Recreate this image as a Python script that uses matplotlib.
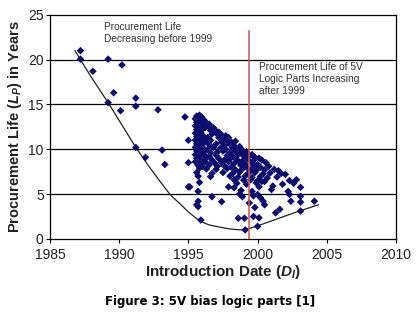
import matplotlib
matplotlib.use("Agg")
import matplotlib.pyplot as plt

plt.rcParams["font.family"] = ["Liberation Sans", "DejaVu Sans"]
plt.rcParams["mathtext.fontset"] = "custom"
plt.rcParams["mathtext.it"] = "Liberation Sans:italic:bold"
plt.rcParams["mathtext.rm"] = "Liberation Sans:bold"

# sparse early parts
early_years = [1987.2, 1987.2, 1989.2, 1990.2, 1988.1, 1989.6, 1989.2, 1991.2, 1991.2,
               1990.1, 1992.8, 1991.2, 1993.1, 1991.9, 1993.3, 1994.75, 1995.0, 1995.0,
               1995.1, 1995.0]
early_life = [21.0, 20.05, 20.05, 19.4, 18.7, 16.3, 15.2, 15.7, 14.8,
              14.3, 14.4, 10.2, 9.9, 9.1, 8.3, 13.6, 11.0, 8.5,
              5.8, 5.8]

# dense cluster of parts introduced 1995-2004
cluster = [
    (1995.6, 13.7), (1995.8, 13.8), (1995.95, 13.6),
    (1995.5, 13.4), (1995.7, 13.3), (1995.9, 13.45), (1996.1, 13.3), (1996.2, 13.1),
    (1995.6, 13.0), (1995.8, 12.9), (1996.0, 13.0), (1996.3, 12.9), (1996.5, 12.8),
    (1995.5, 12.6), (1995.7, 12.5), (1995.9, 12.7), (1996.2, 12.4), (1996.5, 12.5), (1996.8, 12.4),
    (1995.6, 12.2), (1995.8, 12.1), (1996.0, 12.25), (1996.6, 12.1), (1996.9, 12.2), (1997.2, 11.9),
    (1995.5, 11.8), (1995.7, 11.7), (1995.9, 11.85), (1996.7, 11.7), (1997.0, 11.8), (1997.4, 11.6),
    (1997.7, 11.5),
    (1995.6, 11.4), (1995.8, 11.3), (1996.1, 11.45), (1996.4, 11.3), (1997.2, 11.3), (1997.5, 11.2),
    (1997.9, 11.3),
    (1995.5, 11.0), (1995.7, 10.9), (1996.0, 11.05), (1996.3, 10.9), (1996.6, 11.0), (1997.4, 10.8),
    (1997.8, 10.95), (1998.1, 10.8), (1998.4, 10.9),
    (1995.6, 10.6), (1995.8, 10.5), (1996.1, 10.7), (1996.5, 10.5), (1997.0, 10.6), (1997.6, 10.4),
    (1998.0, 10.55), (1998.3, 10.4), (1998.7, 10.3),
    (1995.5, 10.2), (1995.7, 10.1), (1996.0, 10.25), (1996.4, 10.0), (1996.8, 10.2), (1997.3, 10.1),
    (1997.7, 10.0), (1998.2, 10.15), (1998.6, 10.0), (1998.9, 9.9),
    (1995.6, 9.8), (1995.9, 9.7), (1996.2, 9.85), (1996.6, 9.6), (1997.1, 9.7), (1997.5, 9.8),
    (1998.0, 9.6), (1998.4, 9.75), (1998.8, 9.6), (1999.2, 9.7), (1999.6, 9.4),
    (1995.5, 9.4), (1995.8, 9.3), (1996.1, 9.45), (1996.5, 9.2), (1997.0, 9.35), (1997.8, 9.3),
    (1998.2, 9.2), (1998.6, 9.4), (1999.0, 9.25), (1999.4, 9.3), (1999.8, 9.1), (2000.1, 9.0),
    (1995.6, 9.0), (1995.9, 8.9), (1996.3, 9.05), (1996.7, 8.8), (1997.2, 8.95), (1997.6, 8.8),
    (1998.0, 8.9), (1998.5, 8.85), (1998.9, 8.7), (1999.3, 8.9), (1999.7, 8.75), (2000.3, 8.8),
    (1995.5, 8.6), (1995.8, 8.5), (1996.2, 8.6), (1996.9, 8.45), (1997.4, 8.5), (1997.9, 8.6),
    (1998.3, 8.4), (1998.7, 8.5), (1999.1, 8.35), (1999.6, 8.5), (2000.0, 8.3), (2000.6, 8.5),
    (1995.7, 8.2), (1996.0, 8.1), (1996.5, 8.25), (1997.1, 8.1), (1997.6, 8.15), (1998.1, 8.0),
    (1998.8, 8.2), (1999.2, 8.0), (1999.7, 8.15), (2000.2, 8.0), (2000.8, 8.1),
    (1995.8, 7.9), (1996.3, 7.8), (1997.0, 7.75), (1997.8, 7.85), (1998.4, 7.7), (1998.9, 7.8),
    (1999.5, 7.65), (2000.0, 7.8), (2000.5, 7.7), (2001.2, 7.75), (2001.5, 7.6),
    (1995.6, 7.4), (1996.7, 7.3), (1997.5, 7.4), (1998.2, 7.3), (1998.7, 7.45), (1999.3, 7.3),
    (1999.8, 7.4), (2000.4, 7.25), (2000.9, 7.35), (2001.7, 7.3), (2002.0, 7.2),
    (1995.7, 7.0), (1996.6, 6.95), (1998.0, 7.0), (1998.6, 6.9), (1999.1, 7.0), (1999.6, 6.85),
    (2000.2, 6.95), (2000.7, 6.8), (2001.4, 6.9),
    (1998.3, 6.6), (1999.0, 6.55), (1999.5, 6.6), (2000.0, 6.5), (2000.5, 6.4), (2002.3, 6.5),
    (2002.8, 6.6),
    (1995.8, 6.3), (1998.5, 6.2), (1999.2, 6.1), (1999.9, 6.25), (2000.3, 6.4), (2001.8, 6.1),
    (2002.6, 6.2),
    (1997.9, 5.8), (1998.3, 5.7), (2000.1, 5.8), (2001.0, 5.5), (2001.1, 5.9), (2003.1, 5.75),
    (1995.7, 5.3), (1998.8, 5.4), (1999.6, 5.3), (2002.2, 5.3),
    (1998.7, 5.0), (2000.0, 4.95), (2002.3, 4.95),
    (1996.7, 4.7), (1998.9, 4.7), (1999.7, 4.8), (2000.2, 4.6), (2003.1, 4.75),
    (1995.7, 4.2), (1997.4, 4.15), (1999.4, 4.0), (2000.4, 4.2), (2002.4, 4.2), (2003.1, 4.1),
    (2004.1, 4.2),
    (1995.6, 3.8), (1995.7, 3.6), (1999.8, 3.5), (2000.5, 3.8),
    (2001.6, 3.3), (2001.3, 2.9), (2003.1, 3.1),
    (1995.9, 2.1), (1998.6, 2.3), (1999.05, 2.3), (1999.7, 2.5), (2000.1, 2.35),
    (2000.0, 1.4), (1999.1, 1.0),
]
cluster_years = [p[0] for p in cluster]
cluster_life = [p[1] for p in cluster]

# hand-drawn lower envelope
trend_years = [1986.8, 1988.0, 1989.2, 1990.0, 1991.2, 1992.0, 1993.0, 1993.7, 1994.4,
               1995.0, 1995.8, 1996.5, 1997.3, 1998.0, 1998.8, 1999.4, 2000.0, 2001.0,
               2002.0, 2003.0, 2004.4]
trend_life = [21.0, 18.0, 15.2, 13.2, 10.2, 8.4, 6.3, 4.9, 3.9,
              3.0, 2.0, 1.55, 1.3, 1.1, 1.0, 1.15, 1.45, 2.0,
              2.55, 3.1, 3.8]

BREAK_YEAR = 1999.4

fig = plt.figure(figsize=(4.2, 3.29), dpi=100)
ax = fig.add_axes([0.119, 0.274, 0.824, 0.681])

for yv in (5, 10, 15, 20):
    ax.axhline(yv, color="black", lw=0.9, zorder=1)

ax.plot(trend_years, trend_life, color="#222222", lw=0.9, zorder=2)
ax.scatter(early_years + cluster_years, early_life + cluster_life, marker="D", s=15,
           color="#0c0c6e", edgecolors="none", zorder=3)
ax.plot([BREAK_YEAR, BREAK_YEAR], [0, 23.2], color="#c8564a", lw=1.1, zorder=4)

ax.text(1988.9, 24.2, "Procurement Life\nDecreasing before 1999", fontsize=7.3,
        color="#333333", va="top", ha="left", linespacing=1.25)
ax.text(2000.1, 19.7, "Procurement Life of 5V\nLogic Parts Increasing\nafter 1999",
        fontsize=7.3, color="#333333", va="top", ha="left", linespacing=1.25)

ax.set_xlim(1985, 2010)
ax.set_ylim(0, 25)
ax.set_xticks([1985, 1990, 1995, 2000, 2005, 2010])
ax.set_yticks([0, 5, 10, 15, 20, 25])
ax.tick_params(labelsize=10, length=3, width=0.8, color="black", labelcolor="#222222")
ax.tick_params(axis="x", pad=3.5)
ax.tick_params(axis="y", pad=1.5)
for s in ax.spines.values():
    s.set_color("black")
    s.set_linewidth(0.9)

ax.set_xlabel(r"Introduction Date ($D_I$)", fontsize=11, fontweight="bold",
              color="#222222", labelpad=1)
ax.set_ylabel(r"Procurement Life ($L_P$) in Years", fontsize=10.5, fontweight="bold",
              color="#222222", labelpad=3)

fig.text(0.5, 0.085, "Figure 3: 5V bias logic parts [1]", fontsize=8.5, fontweight="bold",
         family="DejaVu Sans", ha="center", va="center", color="black")

fig.savefig("out.png", dpi=100)
